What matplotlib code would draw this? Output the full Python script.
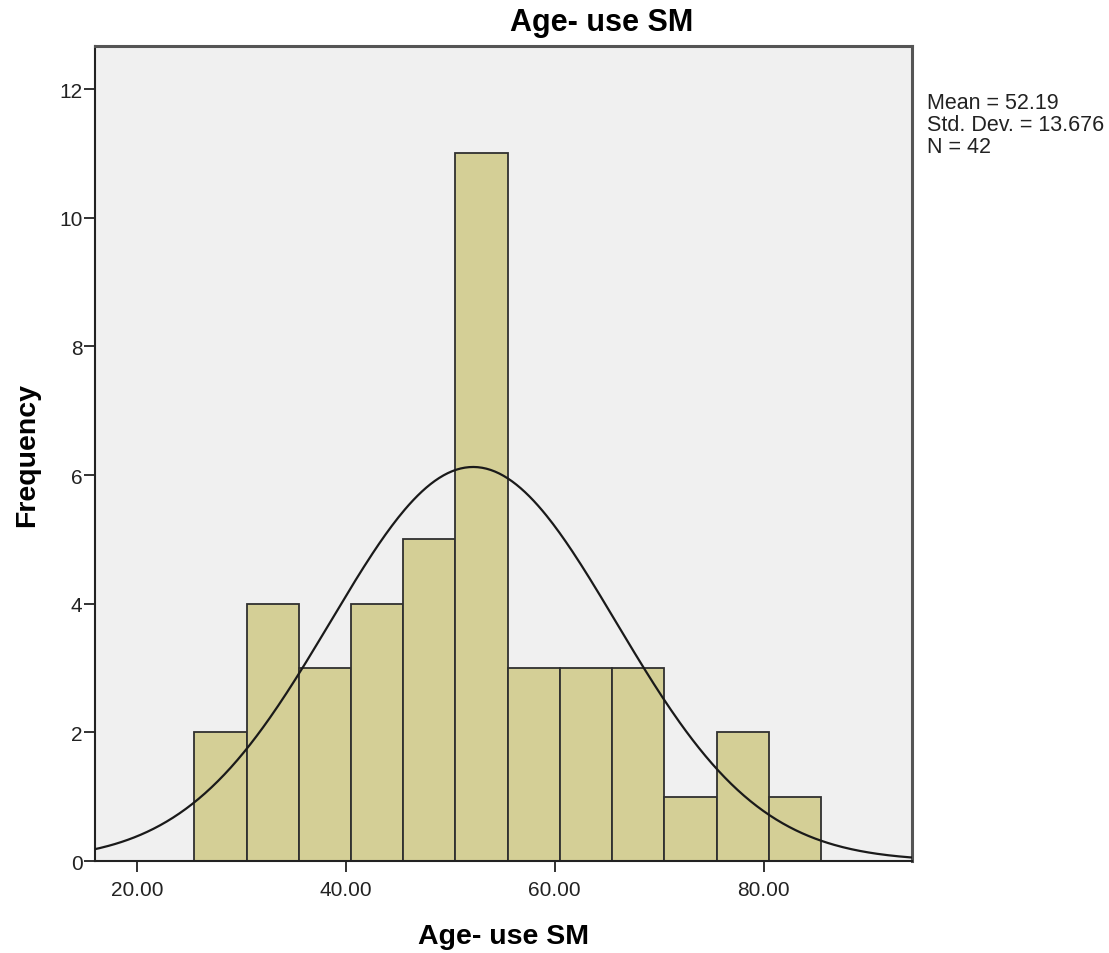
import matplotlib.pyplot as plt
import numpy as np

plt.rcParams['font.family'] = ['Liberation Sans', 'DejaVu Sans']

# histogram data
bin_edges = [25.5, 30.5, 35.5, 40.5, 45.5, 50.5, 55.5, 60.5, 65.5, 70.5, 75.5, 80.5, 85.5]
counts = [2, 4, 3, 4, 5, 11, 3, 3, 3, 1, 2, 1]
mean = 52.19
std = 13.676
n = 42
x_ticks = [20, 40, 60, 80]
y_ticks = [0, 2, 4, 6, 8, 10, 12]

fig = plt.figure(figsize=(11.09, 9.54), dpi=100)
ax = fig.add_axes([0.0857, 0.0964, 0.7367, 0.8543])
ax.set_facecolor('#f0f0f0')

edges = np.array(bin_edges)
ax.bar(edges[:-1], counts, width=np.diff(edges), align='edge',
       color='#d4cf96', edgecolor='#303030', linewidth=1.3, zorder=2)

# normal curve scaled to the histogram
xs = np.linspace(14, 96, 400)
bw = edges[1] - edges[0]
ys = n * bw / (std * np.sqrt(2 * np.pi)) * np.exp(-0.5 * ((xs - mean) / std) ** 2)
ax.plot(xs, ys, color='#1a1a1a', linewidth=1.6, zorder=3)

ax.set_xlim(16.0, 94.2)
ax.set_ylim(0, 12.67)
ax.set_xticks(x_ticks)
ax.set_xticklabels([f'{v:.2f}' for v in x_ticks])
ax.set_yticks(y_ticks)
ax.tick_params(axis='both', direction='out', length=8, width=1.3, labelsize=15, colors='#222222')
ax.tick_params(axis='x', pad=6)
ax.tick_params(axis='y', pad=1)

for side in ['left', 'bottom']:
    ax.spines[side].set_linewidth(1.5)
    ax.spines[side].set_color('#222222')
for side in ['top', 'right']:
    ax.spines[side].set_linewidth(2.2)
    ax.spines[side].set_color('#555555')

ax.set_xlabel('Age- use SM', fontsize=20.5, fontweight='bold', labelpad=17)
ax.set_ylabel('Frequency', fontsize=20.5, fontweight='bold', labelpad=14)

# title is centred over the axes plus the stats area
fig.text(602 / 1109, 1 - 23 / 954, 'Age- use SM', fontsize=22, fontweight='bold',
         ha='center', va='center')

fig.text(0.836, 0.903, f'Mean = {mean}\nStd. Dev. = {std}\nN = {n}',
         fontsize=15.5, va='top', ha='left', linespacing=1.07, color='#222222')

fig.savefig('out.png', dpi=100, facecolor='white')
